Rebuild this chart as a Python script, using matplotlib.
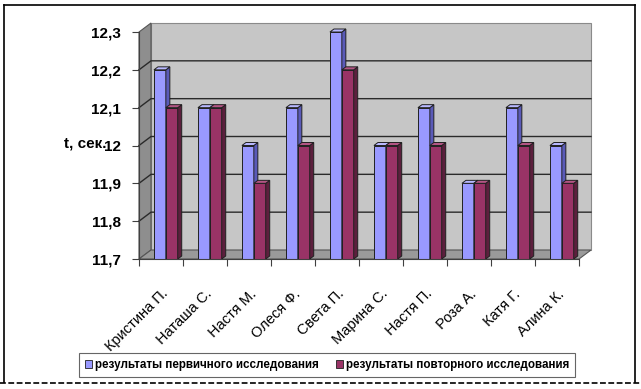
import matplotlib
matplotlib.use("Agg")
import matplotlib.pyplot as plt
from matplotlib.patches import Polygon, Rectangle
from matplotlib.lines import Line2D

plt.rcParams['font.family'] = ['Liberation Sans', 'DejaVu Sans']

categories = ["Кристина П.", "Наташа С.", "Настя М.", "Олеся Ф.", "Света П.",
              "Марина С.", "Настя П.", "Роза А.", "Катя Г.", "Алина К."]
first = [12.2, 12.1, 12.0, 12.1, 12.3, 12.0, 12.1, 11.9, 12.1, 12.0]
repeat = [12.1, 12.1, 11.9, 12.0, 12.2, 12.0, 12.0, 11.9, 12.0, 11.9]
series_names = ["результаты первичного исследования", "результаты повторного исследования"]
yticks = [11.7, 11.8, 11.9, 12.0, 12.1, 12.2, 12.3]
ytick_labels = ["11,7", "11,8", "11,9", "12", "12,1", "12,2", "12,3"]
ylabel = "t, сек."

W, H = 641, 389
fig = plt.figure(figsize=(W / 100, H / 100), dpi=100)
fig.patch.set_facecolor('white')

# front plane in pixels
L, R, T, B = 139, 579, 32, 259
ax = fig.add_axes([L / W, (H - B) / H, (R - L) / W, (B - T) / H])
ax.set_facecolor('none')
ymin, ymax = 11.7, 12.3
ax.set_xlim(0, len(categories))
ax.set_ylim(ymin, ymax)
n = len(categories)

upx = (ymax - ymin) / (B - T)  # y units per pixel
xpx = n / (R - L)               # x units per pixel
DX, DY = 12 * xpx, 9 * upx      # wall depth
bdx, bdy = 4 * xpx, 3 * upx     # bar depth

# walls
back = Polygon([(DX, ymin + DY), (n + DX, ymin + DY), (n + DX, ymax + DY), (DX, ymax + DY)],
               closed=True, facecolor='#c6c6c6', edgecolor='#8a8a8a', lw=0.8, clip_on=False, zorder=1)
left = Polygon([(0, ymin), (DX, ymin + DY), (DX, ymax + DY), (0, ymax)],
               closed=True, facecolor='#8e8e8e', edgecolor='#555555', lw=0.8, clip_on=False, zorder=1)
floor = Polygon([(0, ymin), (n, ymin), (n + DX, ymin + DY), (DX, ymin + DY)],
                closed=True, facecolor='#9a9a9a', edgecolor='#555555', lw=0.8, clip_on=False, zorder=1)
for p in (back, left, floor):
    ax.add_patch(p)

# gridlines
for y in yticks[1:-1]:
    ax.plot([0, DX, n + DX], [y, y + DY, y + DY], color='#2a2a2a', lw=1.0, clip_on=False, zorder=2)

def bar3d(x0, w, top, front, side, topc):
    ax.add_patch(Polygon([(x0, ymin), (x0 + w, ymin), (x0 + w, top), (x0, top)], closed=True,
                         facecolor=front, edgecolor='#202020', lw=0.7, clip_on=False, zorder=3))
    ax.add_patch(Polygon([(x0 + w, ymin), (x0 + w + bdx, ymin + bdy), (x0 + w + bdx, top + bdy), (x0 + w, top)],
                         closed=True, facecolor=side, edgecolor='#202020', lw=0.7, clip_on=False, zorder=3))
    ax.add_patch(Polygon([(x0, top), (x0 + w, top), (x0 + w + bdx, top + bdy), (x0 + bdx, top + bdy)],
                         closed=True, facecolor=topc, edgecolor='#202020', lw=0.7, clip_on=False, zorder=3))

bw = 0.27
for i in range(n):
    bar3d(i + 0.34, bw, first[i], '#9999ff', '#5a5ab8', '#b8b8ff')
    bar3d(i + 0.34 + bw, bw, repeat[i], '#993366', '#5c1f3d', '#b35584')

# axes styling
for s in ('top', 'right'):
    ax.spines[s].set_visible(False)
ax.spines['left'].set_color('#404040')
ax.spines['bottom'].set_color('#404040')
ax.spines['left'].set_zorder(4)
ax.spines['bottom'].set_zorder(4)
ax.set_yticks(yticks)
ax.set_yticklabels(ytick_labels, fontsize=11, fontweight='bold')
ax.tick_params(axis='y', length=5, width=0.8, color='#404040', pad=8)
ax.set_xticks(range(n + 1))
ax.set_xticklabels([''] * (n + 1))
ax.tick_params(axis='x', which='major', length=5, width=0.8, color='#404040')
ax.set_xticks([i + 0.5 for i in range(n)], minor=True)
ax.set_xticklabels(categories, minor=True, rotation=45, ha='right', rotation_mode='anchor',
                   fontsize=10.5)
ax.tick_params(axis='x', which='minor', length=0, pad=20)

fig.text(106 / W, (H - 144) / H, ylabel, fontsize=11, fontweight='bold', ha='right', va='center')

# legend
handles = [Rectangle((0, 0), 1, 1, facecolor='#9999ff', edgecolor='#202020', lw=0.6),
           Rectangle((0, 0), 1, 1, facecolor='#993366', edgecolor='#202020', lw=0.6)]
leg = fig.legend(handles, series_names, loc='center', bbox_to_anchor=(327 / W, (H - 365) / H),
                 ncol=2, frameon=True, fancybox=False, handlelength=0.6,
                 handleheight=0.6, handletextpad=0.25, columnspacing=1.5, borderpad=0.5,
                 prop={'weight': 'bold', 'size': 8.4})
leg.get_frame().set_edgecolor('#404040')
leg.get_frame().set_linewidth(0.8)

# outer border
def px(x, y):
    return x / W, (H - y) / H
for (x0, y0), (x1, y1) in [((4, 5), (635, 5)), ((4, 5), (4, 382)), ((635, 5), (635, 382))]:
    a, b = px(x0, y0); c, d = px(x1, y1)
    fig.add_artist(Line2D([a, c], [b, d], color='black', lw=1.2, transform=fig.transFigure))
a, b = px(0, 383); c, d = px(641, 383)
fig.add_artist(Line2D([a, c], [b, d], color='black', lw=1.2, linestyle=(0, (3.5, 1.5)),
                      transform=fig.transFigure))

fig.savefig('out.png', dpi=100)
